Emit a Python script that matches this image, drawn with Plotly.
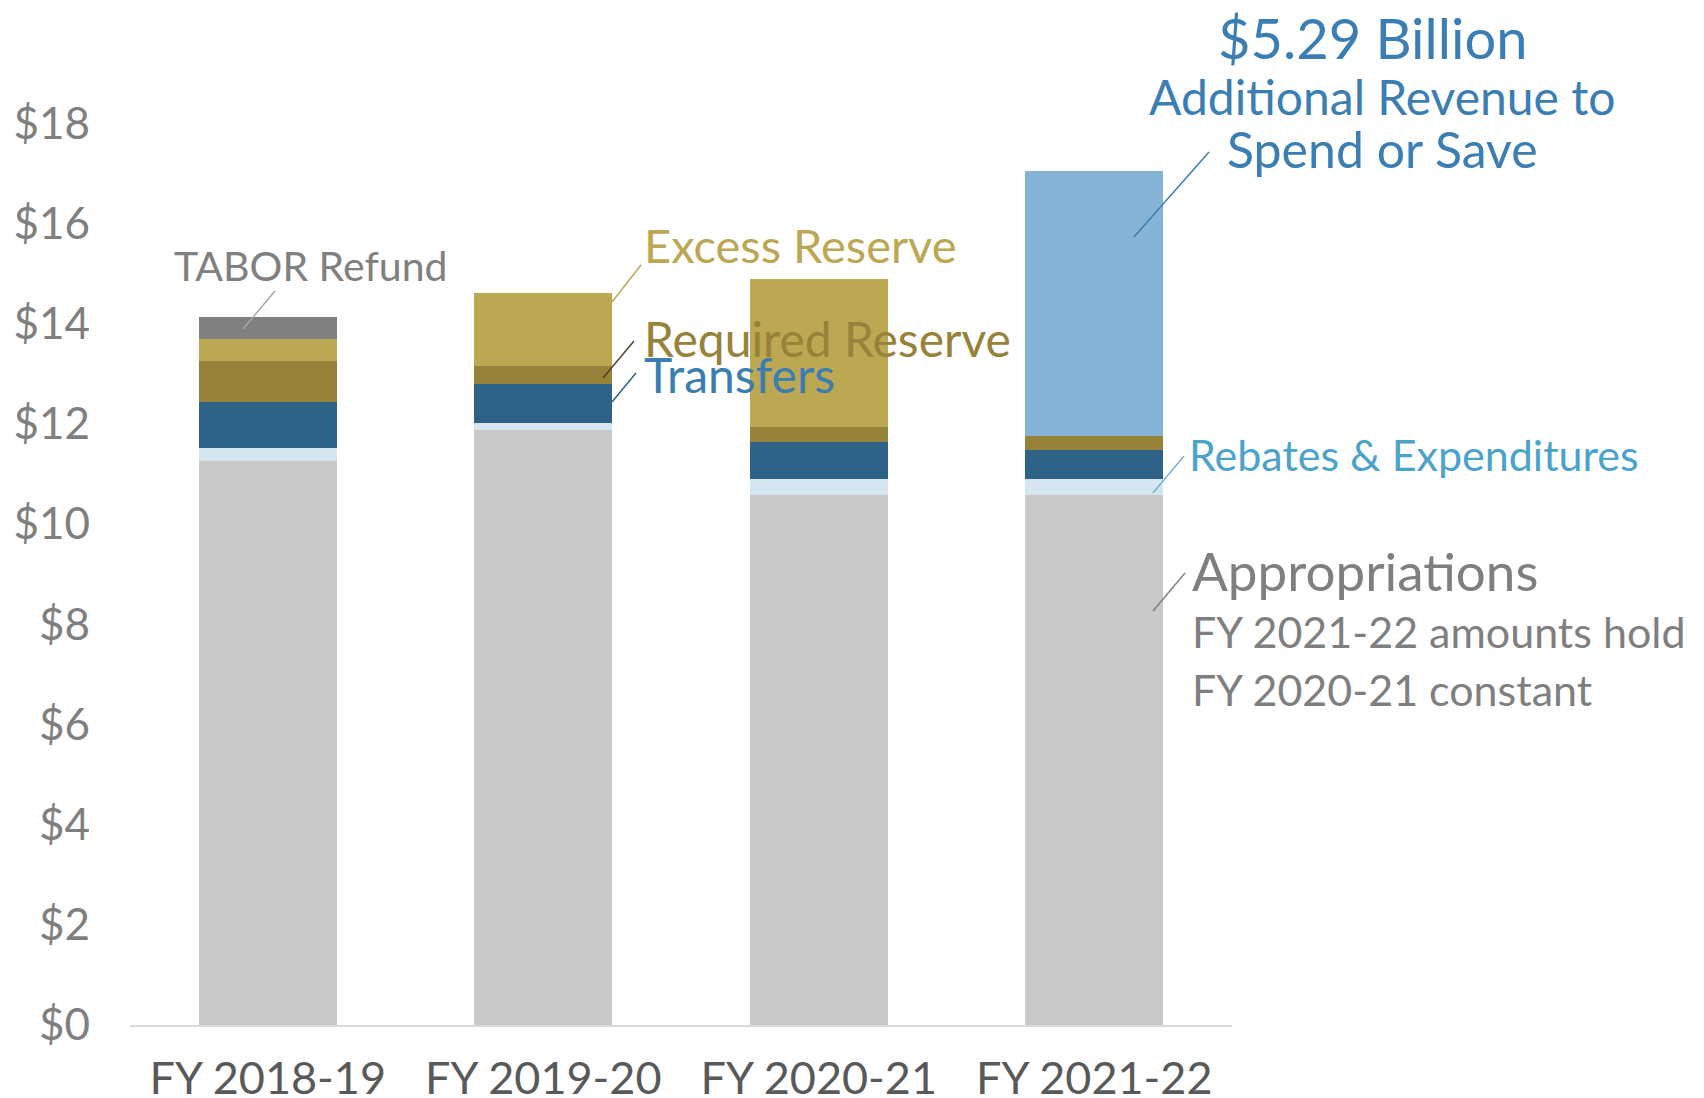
import plotly.graph_objects as go

categories = ["FY 2018-19", "FY 2019-20", "FY 2020-21", "FY 2021-22"]
appropriations = [11.26, 11.87, 10.58, 10.58]
rebates_expenditures = [0.25, 0.15, 0.31, 0.31]
transfers = [0.92, 0.77, 0.74, 0.58]
required_reserve = [0.82, 0.36, 0.30, 0.29]
excess_reserve = [0.44, 1.46, 2.96, 0.0]
tabor_refund = [0.45, 0.0, 0.0, 0.0]
additional_revenue = [0.0, 0.0, 0.0, 5.29]
y_tick_vals = [0, 2, 4, 6, 8, 10, 12, 14, 16, 18]
y_tick_text = ["$0", "$2", "$4", "$6", "$8", "$10", "$12", "$14", "$16", "$18"]

FONT = "Lato"
W, H = 1704, 1098
L, R, T, B = 122, 480, 15, 81
YMAX = 20.0
DX, DY = -8, -9  # global offset for annotation placement

def px_x(px):
    return (px + DX - L) / (W - L - R)

def px_y(py):
    return (H - B - (py + DY)) / (H - T - B)

series = [
    ("Appropriations", appropriations, "#C9C9C9"),
    ("Rebates & Expenditures", rebates_expenditures, "#D5E6F1"),
    ("Transfers", transfers, "#2E6286"),
    ("Required Reserve", required_reserve, "#968238"),
    ("Excess Reserve", excess_reserve, "#BCA753"),
    ("TABOR Refund", tabor_refund, "#808080"),
    ("Additional Revenue", additional_revenue, "#85B4D6"),
]

fig = go.Figure()
for name, vals, color in series:
    fig.add_trace(go.Bar(x=categories, y=vals, name=name,
                         marker=dict(color=color, line=dict(width=0)),
                         width=0.5, hoverinfo="y+name"))

annots = [
    ("TABOR Refund", 172, 266, "#808080", 41, "left"),
    ("Excess Reserve", 642, 246, "#BCA753", 47, "left"),
    ("Required Reserve", 642, 339, "#968238", 48, "left"),
    ("Transfers", 642, 375, "#3A7DB0", 48, "left"),
    ("$5.29 Billion", 1372, 39, "#3A7EB4", 56, "center"),
    ("Additional Revenue to", 1382, 98, "#3A7EB4", 48, "center"),
    ("Spend or Save", 1382, 150, "#3A7EB4", 50, "center"),
    ("Rebates & Expenditures", 1187, 456, "#4BA3CC", 43, "left"),
    ("Appropriations", 1190, 571, "#7F7F7F", 53, "left"),
    ("FY 2021-22 amounts hold", 1190, 632, "#7F7F7F", 43, "left"),
    ("FY 2020-21 constant", 1190, 691, "#7F7F7F", 43, "left"),
]
for text, x, y, color, size, anchor in annots:
    fig.add_annotation(x=px_x(x), y=px_y(y), xref="paper", yref="paper", text=text,
                       showarrow=False, xanchor=anchor, yanchor="middle",
                       font=dict(family=FONT, size=size, color=color))

leaders = [
    (275, 292, 243, 330, "#A6A6A6"),
    (641, 266, 612, 303, "#BCA753"),
    (634, 342, 603, 379, "#4F4426"),
    (636, 374, 612, 403, "#2E6286"),
    (1209, 153, 1134, 238, "#3A7EB4"),
    (1184, 457, 1153, 494, "#6FB3D6"),
    (1185, 574, 1153, 612, "#7F7F7F"),
]
for x0, y0, x1, y1, color in leaders:
    fig.add_shape(type="line", xref="paper", yref="paper",
                  x0=px_x(x0), y0=px_y(y0), x1=px_x(x1), y1=px_y(y1),
                  line=dict(color=color, width=1.5))

fig.update_layout(
    width=W, height=H,
    margin=dict(l=L, r=R, t=T, b=B, pad=0, autoexpand=False),
    barmode="stack", showlegend=False,
    plot_bgcolor="white", paper_bgcolor="white",
    font=dict(family=FONT),
    xaxis=dict(type="category", range=[-0.5, 3.5], showgrid=False,
               showline=True, linecolor="#D9D9D9", linewidth=2,
               ticks="", tickfont=dict(family=FONT, size=45, color="#595959"),
               ticklabelstandoff=13, automargin=False, fixedrange=True),
    yaxis=dict(range=[0, YMAX], tickvals=y_tick_vals, ticktext=y_tick_text,
               showgrid=False, zeroline=False, showline=False, ticks="",
               tickfont=dict(family=FONT, size=44, color="#7F7F7F"),
               ticklabelstandoff=39, automargin=False, fixedrange=True),
)

fig.write_html("out.html")
